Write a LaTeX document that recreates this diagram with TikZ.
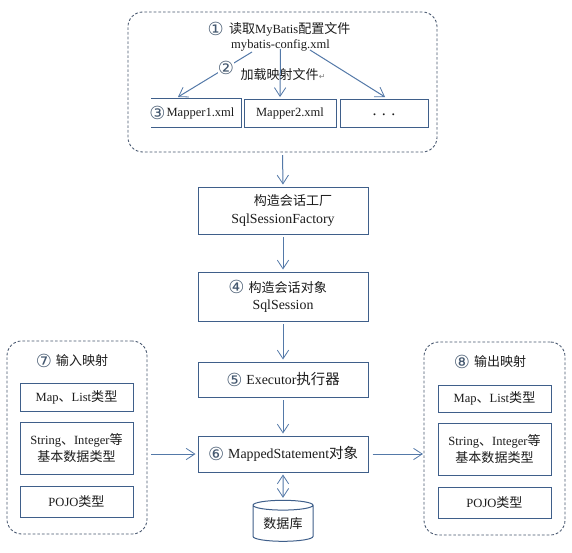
\documentclass[tikz,border=0pt]{standalone}
\usepackage{fontspec}
\setmainfont{Liberation Serif}
\newfontfamily\cjkfam[Scale=1.04]{Noto Sans CJK SC}
\newfontfamily\symfam{DejaVu Sans}
\newcommand{\zh}[1]{{\cjkfam #1}}
\newcommand{\zhs}[1]{{\cjkfam\fontsize{9.4}{13}\selectfont #1}}
\newcommand{\cn}[1]{\raisebox{-1.2pt}{\color{numc}\symfam\fontsize{13.5}{13}\selectfont #1}}
\usetikzlibrary{arrows.meta,shapes.geometric,calc}
\definecolor{linec}{HTML}{3F5F8A}
\definecolor{arrc}{HTML}{5479A8}
\definecolor{dashc}{HTML}{46566E}
\definecolor{numc}{HTML}{44586F}
\definecolor{textc}{HTML}{1C1C1C}
\def\px{0.75pt}
\tikzset{
  x=0.75pt,y=-0.75pt,
  every node/.style={text=textc,font=\fontsize{9.4}{13}\selectfont,inner sep=0pt},
  boxn/.style={draw=linec,line width=0.75pt,fill=white,align=center},
  bign/.style={boxn,font=\fontsize{10.4}{13}\selectfont},
  plainn/.style={align=center},
  group/.style={draw=dashc,line width=0.65pt,dash pattern=on 2pt off 1.5pt,rounded corners=11pt,fill=white},
  arr/.style={draw=arrc,line width=0.75pt,-{Straight Barb[length=6.5pt,width=8.5pt,line width=0.6pt]}},
  darr/.style={draw=arrc,line width=0.75pt,{Straight Barb[length=6.5pt,width=8.5pt,line width=0.6pt]}-{Straight Barb[length=6.5pt,width=8.5pt,line width=0.6pt]}},
  badge/.style={fill=white,inner sep=0.3pt}
}
\begin{document}
\begin{tikzpicture}
\useasboundingbox[fill=white] (0,0) rectangle (572,553);
% groups
\node[group,minimum width=309*\px,minimum height=140*\px] (top) at (282.5,82) {};
\node[group,minimum width=140*\px,minimum height=193*\px] (inp) at (77,437.5) {};
\node[group,minimum width=141*\px,minimum height=193*\px] (outp) at (494.5,438.5) {};
% top group contents
\node[plainn] (title) at (279,29) {\cn{①}\hspace{4pt}\zh{读取}MyBatis\zh{配置文件}};
\node[plainn] (cfg) at (280.5,45) {mybatis-config.xml};
\node[plainn,minimum width=90*\px,minimum height=28*\px] (m1) at (196.5,113) {\hspace*{6pt}Mapper1.xml};
\draw[linec,line width=0.75pt] (m1.north west) -- (m1.north east) -- (m1.south east) -- (m1.south west);
\node[boxn,minimum width=92*\px,minimum height=28*\px] (m2) at (290,113) {Mapper2.xml};
\node[boxn,minimum width=88*\px,minimum height=28*\px] (m3) at (384,113) {\raisebox{-4pt}{\fontsize{12}{13}\selectfont . . .}};
\coordinate (m1t) at (178,97);
\coordinate (m2t) at (280,97);
\coordinate (m3t) at (385,97);
\coordinate (c1) at (252,52);
\coordinate (c2) at (280.5,49);
\coordinate (c3) at (310,50);
\draw[arr] (c1) -- (m1t);
\draw[arr] (c2) -- (m2t);
\draw[arr] (c3) -- (m3t);
\node[badge] (n2) at (226,68) {\cn{②}};
\node[plainn] (load) at (283,74.5) {\zh{加载映射文件}{\symfam\color{gray}\fontsize{6}{7}\selectfont ↵}};
\node[badge,minimum height=12pt,minimum width=17*\px] (n3) at (157.5,113) {\cn{③}};
% centre column
\node[bign,minimum width=170*\px,minimum height=47*\px] (factory) at (283,210.5) {\hspace*{15pt}\zhs{构造会话工厂}\\SqlSessionFactory};
\node[bign,minimum width=170*\px,minimum height=49*\px] (session) at (283,296.5) {\hspace*{-8pt}\cn{④}\hspace{3pt}\zhs{构造会话对象}\\SqlSession};
\node[bign,minimum width=170*\px,minimum height=35*\px] (exec) at (283,379.5) {\cn{⑤}\hspace{3pt}Executor\zh{执行器}};
\node[bign,minimum width=170*\px,minimum height=36*\px] (mapped) at (283,454) {\cn{⑥}\hspace{3pt}MappedStatement\zh{对象}};
\node[cylinder,draw=linec,line width=0.75pt,fill=white,shape border rotate=90,aspect=0.25,minimum width=60*\px,minimum height=41*\px] (db) at (283,523.5) {\zh{数据库}};
% left group
\node[plainn] (inT) at (72,361) {\cn{⑦}\hspace{3pt}\zh{输入映射}};
\node[boxn,minimum width=113*\px,minimum height=28*\px] (a1) at (76.5,397) {Map\zh{、}List\zh{类型}};
\node[boxn,minimum width=113*\px,minimum height=52*\px] (a2) at (76.5,448) {\setlength{\baselineskip}{13.5pt}String\zh{、}Integer\zh{等}\\\zh{基本数据类型}};
\node[boxn,minimum width=113*\px,minimum height=31*\px] (a3) at (76.5,501.5) {POJO\zh{类型}};
% right group
\node[plainn] (outT) at (490,362) {\cn{⑧}\hspace{3pt}\zh{输出映射}};
\node[boxn,minimum width=113*\px,minimum height=27*\px] (b1) at (494.5,398.5) {Map\zh{、}List\zh{类型}};
\node[boxn,minimum width=113*\px,minimum height=52*\px] (b2) at (494.5,449) {\setlength{\baselineskip}{13.5pt}String\zh{、}Integer\zh{等}\\\zh{基本数据类型}};
\node[boxn,minimum width=113*\px,minimum height=31*\px] (b3) at (494.5,502.5) {POJO\zh{类型}};
% connectors
\draw[arr,shorten >=1.5pt,shorten <=2pt] (top.south) -- (factory.north);
\draw[arr,shorten >=1.5pt,shorten <=2pt] (factory) -- (session);
\draw[arr,shorten >=1.5pt,shorten <=2pt] (session) -- (exec);
\draw[arr,shorten >=1.5pt,shorten <=2pt] (exec) -- (mapped);
\draw[darr,shorten >=1.5pt,shorten <=1.5pt] (mapped) -- (db);
\draw[arr,shorten >=1.5pt,shorten <=3pt] (inp.east |- mapped.west) -- (mapped.west);
\draw[arr,shorten >=0.5pt,shorten <=3pt] (mapped.east) -- (outp.west |- mapped.east);
\end{tikzpicture}
\end{document}
